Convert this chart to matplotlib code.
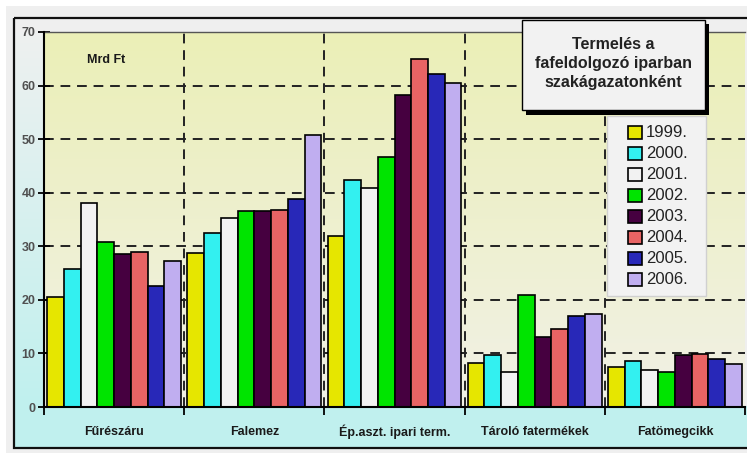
import numpy as np
import matplotlib.pyplot as plt
from matplotlib.patches import Rectangle
from matplotlib.colors import LinearSegmentedColormap

plt.rcParams['font.family'] = ['Liberation Sans', 'DejaVu Sans']

categories = ["Fűrészáru", "Falemez", "Ép.aszt. ipari term.", "Tároló fatermékek", "Fatömegcikk"]
years = ["1999.", "2000.", "2001.", "2002.", "2003.", "2004.", "2005.", "2006."]
values = {
    "1999.": [20.5, 28.8, 31.9, 8.2, 7.5],
    "2000.": [25.8, 32.4, 42.3, 9.7, 8.5],
    "2001.": [38.1, 35.3, 40.8, 6.6, 7.0],
    "2002.": [30.8, 36.6, 46.7, 21.0, 6.5],
    "2003.": [28.5, 36.6, 58.2, 13.1, 9.7],
    "2004.": [28.9, 36.8, 65.0, 14.6, 9.9],
    "2005.": [22.5, 38.9, 62.1, 17.0, 9.0],
    "2006.": [27.3, 50.7, 60.5, 17.4, 8.1],
}
colors = ["#E6E600", "#33F0F0", "#F2F2F2", "#00E400", "#460040",
          "#E86464", "#2828B8", "#C0AEF0"]
y_ticks = [0, 10, 20, 30, 40, 50, 60, 70]

W, H = 747, 453
fig = plt.figure(figsize=(W / 100, H / 100), dpi=100)
fig.patch.set_facecolor("white")


def pixel_axes(zorder):
    a = fig.add_axes([0, 0, 1, 1], zorder=zorder)
    a.set_xlim(0, W)
    a.set_ylim(H, 0)
    a.axis("off")
    a.patch.set_alpha(0)
    return a


# background panels in pixel coordinates
bg = pixel_axes(0)
bg.add_patch(Rectangle((6, 6), W, H, facecolor="#EFEFEF", edgecolor="none"))
strip = LinearSegmentedColormap.from_list("strip", ["#EEF0F0", "#C0F0EE"])
bg.imshow(np.linspace(0, 1, 100).reshape(-1, 1), cmap=strip, aspect="auto",
          extent=[15, 44, 407, 32], zorder=1)
bg.add_patch(Rectangle((15, 406), W, 42, facecolor="#C0F0EE", edgecolor="none", zorder=1))
bg.add_patch(Rectangle((14, 18), W, 430, facecolor="none", edgecolor="#111111",
                       lw=1.6, zorder=2))
bg.set_xlim(0, W)
bg.set_ylim(H, 0)

# main plot area
L, R, T, B = 44, 745, 32, 407
ax = fig.add_axes([L / W, (H - B) / H, (R - L) / W, (B - T) / H], zorder=1)
ax.set_facecolor("none")
area = LinearSegmentedColormap.from_list("area", ["#EBEFB7", "#F1F1E6"])
ax.imshow(np.linspace(0, 1, 100).reshape(-1, 1), cmap=area, aspect="auto",
          extent=[0, len(categories), 0, 70], origin="upper", zorder=0)
ax.set_xlim(0, len(categories))
ax.set_ylim(0, 70)

for y in y_ticks[1:-1]:
    ax.axhline(y, color="#222222", lw=1.4, ls=(0, (5, 3.5)), zorder=1)
for x in range(1, len(categories)):
    ax.axvline(x, color="#222222", lw=1.4, ls=(0, (5, 3.5)), zorder=1)

n = len(years)
group_w = 0.955
bw = group_w / n
xc = np.arange(len(categories)) + 0.5
for k, yr in enumerate(years):
    offs = -group_w / 2 + bw * (k + 0.5)
    ax.bar(xc + offs, values[yr], width=bw, color=colors[k], edgecolor="black",
           lw=1.2, zorder=2, label=yr)

ax.spines["right"].set_visible(False)
ax.spines["top"].set_color("#555555")
ax.spines["top"].set_linewidth(1.0)
ax.spines["left"].set_linewidth(1.5)
ax.spines["bottom"].set_linewidth(1.5)
ax.spines["left"].set_zorder(4)
ax.spines["bottom"].set_zorder(4)

ax.set_yticks(y_ticks)
ax.set_yticklabels([str(v) for v in y_ticks], fontsize=9, fontweight="bold",
                   color="#505050")
ax.tick_params(axis="y", direction="inout", length=8, width=1.3, pad=2)
ax.set_xticks(range(len(categories) + 1))
ax.set_xticklabels([])
ax.tick_params(axis="x", direction="out", length=6, width=1.3)

for i, c in enumerate(categories):
    ax.text(xc[i], -0.067, c, transform=ax.get_xaxis_transform(), ha="center",
            va="center", fontsize=9, fontweight="bold", color="#1a1a1a")

ax.text(0.062, 0.925, "Mrd Ft", transform=ax.transAxes, fontsize=9,
        fontweight="bold", ha="left", va="center", color="#1a1a1a")

# overlay: title box with drop shadow and legend
ov = pixel_axes(2)
ov.add_patch(Rectangle((526, 24), 183, 91, facecolor="black", edgecolor="none", zorder=5))
ov.add_patch(Rectangle((522, 20), 183, 90, facecolor="#F2F2F2", edgecolor="black",
                       lw=1.0, zorder=6))
ov.text(613.5, 63.5, "Termelés a\nfafeldolgozó iparban\nszakágazatonként",
        ha="center", va="center", fontsize=11.5, fontweight="bold",
        linespacing=1.35, zorder=7, color="#222222")

ov.add_patch(Rectangle((607, 116), 99, 180, facecolor="#F2F2F2", edgecolor="#D0D0D0",
                       lw=1.0, zorder=6))
for k, yr in enumerate(years):
    yy = 132 + k * 21
    ov.add_patch(Rectangle((628, yy - 6.5), 14, 13, facecolor=colors[k],
                           edgecolor="black", lw=1.2, zorder=7))
    ov.text(646, yy + 0.5, yr, ha="left", va="center", fontsize=12,
            color="#222222", zorder=7)

fig.savefig("out.png", dpi=100)
